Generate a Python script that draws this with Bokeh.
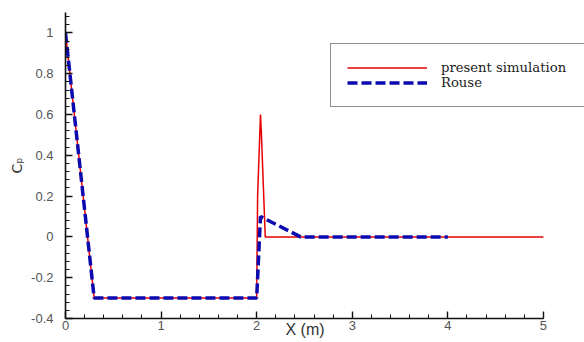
import numpy as np
from bokeh.plotting import figure
from bokeh.models import (FixedTicker, CustomJSTickFormatter, Legend,
                          LegendItem, Range1d)
from bokeh.embed import file_html
from bokeh.resources import INLINE

# ---- data ----
x_sim = [0.0, 0.3, 2.0, 2.01, 2.04, 2.05, 2.09, 5.0]
cp_sim = [1.0, -0.3, -0.3, 0.2, 0.6, 0.5, 0.0, 0.0]

x_rouse = [0.0, 0.3, 2.0, 2.04, 2.46, 4.0]
cp_rouse = [1.0, -0.3, -0.3, 0.1, 0.0, 0.0]

x_ticks = [0, 1, 2, 3, 4, 5]
y_ticks = [-0.4, -0.2, 0, 0.2, 0.4, 0.6, 0.8, 1]
series_names = ["present simulation", "Rouse"]

p = figure(width=584, height=342, output_backend="svg", toolbar_location=None,
           x_range=Range1d(0, 5.43), y_range=Range1d(-0.4, 1.1),
           min_border_left=65, min_border_right=0, min_border_top=12,
           min_border_bottom=24)
p.background_fill_color = "white"
p.border_fill_color = "white"
p.outline_line_color = None
p.xgrid.visible = False
p.ygrid.visible = False

red = p.line(x_sim, cp_sim, line_color="#e60000", line_width=1.5)
blue = p.line(x_rouse, cp_rouse, line_color="#0a0ab0", line_width=3.5,
              line_dash="10 4")

x_minor = [round(v, 3) for v in np.arange(0, 5.001, 0.2)]
y_minor = [round(v, 3) for v in np.arange(-0.4, 1.09, 0.04)]

fmt = CustomJSTickFormatter(code="return Number(tick.toFixed(2)).toString();")

for ax, ticks, minor in ((p.xaxis[0], x_ticks, x_minor), (p.yaxis[0], y_ticks, y_minor)):
    ax.ticker = FixedTicker(ticks=ticks, minor_ticks=minor)
    ax.formatter = fmt
    ax.axis_line_color = "#111111"
    ax.axis_line_width = 1.6
    ax.major_tick_in = 7
    ax.major_tick_out = 0
    ax.minor_tick_in = 4
    ax.minor_tick_out = 0
    ax.major_tick_line_color = "#111111"
    ax.major_tick_line_width = 1.4
    ax.minor_tick_line_color = "#111111"
    ax.minor_tick_line_width = 1
    ax.major_label_text_font = "Liberation Sans"
    ax.major_label_text_font_size = "13px"
    ax.major_label_text_color = "#555555"
    ax.axis_label_text_font = "Liberation Sans"
    ax.axis_label_text_font_style = "normal"
    ax.axis_label_text_color = "#333333"

p.xaxis[0].bounds = (0, 5)
p.xaxis[0].major_label_standoff = 2
# en spaces pull the centred title left, under the middle of the 0-5 axis
p.xaxis[0].axis_label = "X (m)" + "\u2002" * 5
p.xaxis[0].axis_label_text_font_size = "16px"
p.xaxis[0].axis_label_standoff = -12

p.yaxis[0].major_label_standoff = 12
p.yaxis[0].axis_label = "Cₚ"
p.yaxis[0].axis_label_text_font = "DejaVu Sans"
p.yaxis[0].axis_label_text_font_size = "14px"
p.yaxis[0].axis_label_standoff = 3

legend = Legend(items=[LegendItem(label=series_names[0], renderers=[red]),
                       LegendItem(label=series_names[1], renderers=[blue])],
                location=(265, 211), orientation="vertical",
                padding=16, spacing=0, margin=0,
                glyph_width=80, glyph_height=15, label_height=15,
                label_width=150, label_standoff=14,
                label_text_font="DejaVu Serif", label_text_font_size="13.2px",
                label_text_color="#222222",
                border_line_color="#222222", border_line_width=1.5,
                background_fill_color="white", background_fill_alpha=1)
p.add_layout(legend, "center")

open("out.html", "w").write(file_html(p, INLINE))
